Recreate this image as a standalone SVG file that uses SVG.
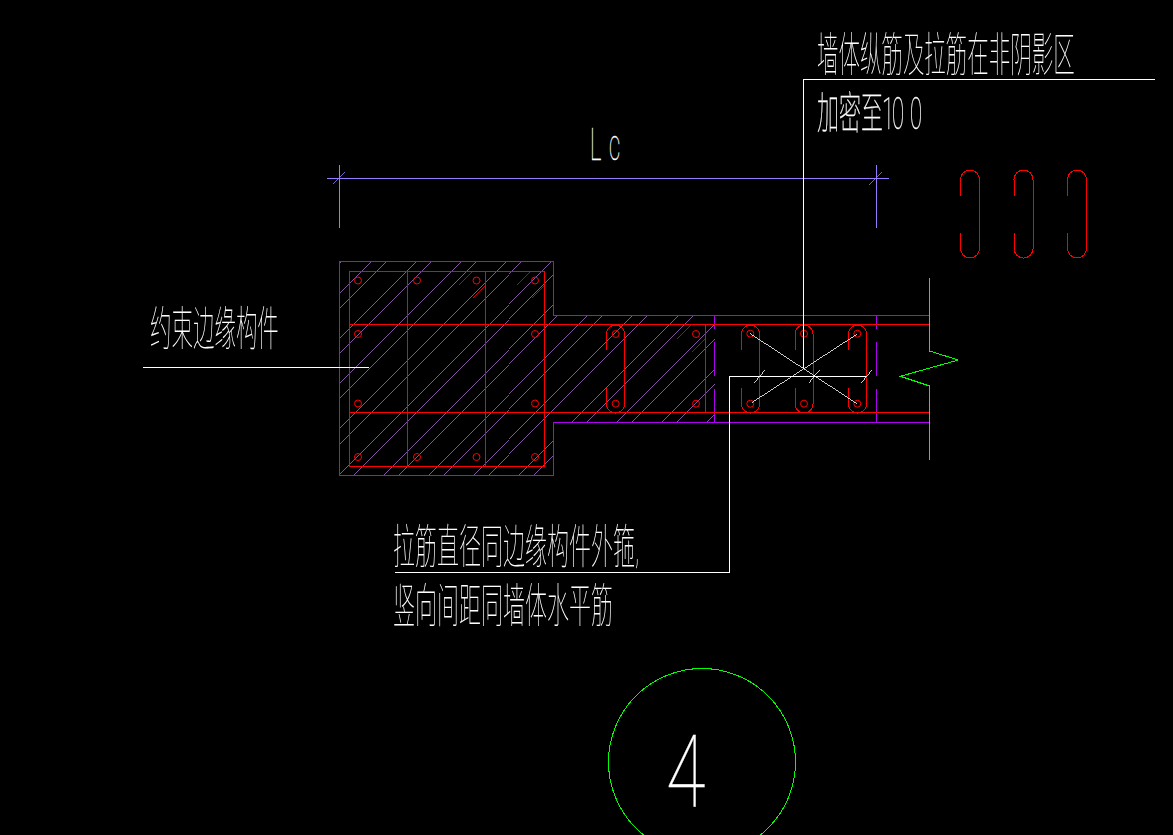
<svg xmlns="http://www.w3.org/2000/svg" width="1173" height="835" viewBox="0 0 1173 835">
<style>
path,polyline,circle{fill:none;stroke-width:1;shape-rendering:crispEdges}
.r{stroke:#ff0000}.p{stroke:#b000f0}.h{stroke:#9a64bc;stroke-width:.85}.w{stroke:#ffffff}.g{stroke:#00ff00}.b{stroke:#9a78ff}
.d{stroke-width:.8}
text{fill:#ffffff;font-family:Roboto,"Noto Sans CJK SC",sans-serif;font-weight:100;font-size:47px}
.t{stroke:#ffffff;stroke-width:.3}
</style>
<defs>
<clipPath id="cs"><path d="M339.5 261.5H553.5V315.5H715V422.5H553.5V475H339.5Z"/></clipPath>
<circle id="bar" class="r" r="3.5" style="shape-rendering:auto"/>
<path id="st" class="r" d="M0 25V9A9 9 0 0 1 18 9V79A9 9 0 0 1 0 79V63"/>
<path id="lp" class="r" d="M0 26V10A9.5 9.5 0 0 1 19 10V79A9.5 9.5 0 0 1 0 79V63"/>
</defs>
<rect width="1173" height="835" fill="#000000"/>
<g id="hatch">
<path class="h" clip-path="url(#cs)" d="M402.5 200L102.5 500M432.5 200L132.5 500M447.5 200L147.5 500M477.5 200L177.5 500M492.5 200L192.5 500M522.5 200L222.5 500M537.5 200L237.5 500M567.5 200L267.5 500M582.5 200L282.5 500M612.5 200L312.5 500M627.5 200L327.5 500M657.5 200L357.5 500M672.5 200L372.5 500M702.5 200L402.5 500M717.5 200L417.5 500M747.5 200L447.5 500M762.5 200L462.5 500M792.5 200L492.5 500M807.5 200L507.5 500M837.5 200L537.5 500M852.5 200L552.5 500M882.5 200L582.5 500M897.5 200L597.5 500M927.5 200L627.5 500"/>
</g>
<g id="outline">
<path class="p" d="M929.5 315.5H553.5V261.5H339.5V475H553.5V422.5H929.5"/>
<path class="p" d="M714.5 315.5V329M714.5 342V376M714.5 389V422.5M876.5 315.5V329M876.5 342V376M876.5 389V422.5"/>
</g>
<g id="rebar">
<path class="r" d="M349.5 271H544.5V466H349.5ZM407.5 271V466M485.5 271V466M349.5 324.5H929.5M349.5 412.5H929.5M705.5 324.5V412.5"/>
<path class="r d" d="M458.5 285L471.5 272M472.5 298L485.5 284.5M517 284.5L530 272M531 298L544.5 284.5M677 339L691 325M691.5 352L705.5 338"/>
<use href="#bar" x="358" y="280.5"/><use href="#bar" x="417" y="280.5"/><use href="#bar" x="476.5" y="280.5"/><use href="#bar" x="535" y="280.5"/>
<use href="#bar" x="358" y="334"/><use href="#bar" x="535" y="334"/><use href="#bar" x="358" y="403.5"/><use href="#bar" x="535" y="403.5"/>
<use href="#bar" x="358" y="457"/><use href="#bar" x="417" y="457"/><use href="#bar" x="476.5" y="457"/><use href="#bar" x="535" y="457"/>
<use href="#bar" x="615.7" y="334"/><use href="#bar" x="696" y="334"/><use href="#bar" x="615.7" y="403.7"/><use href="#bar" x="696" y="403.7"/>
<use href="#bar" x="750.3" y="333.7"/><use href="#bar" x="804" y="333.7"/><use href="#bar" x="857.3" y="333.7"/>
<use href="#bar" x="750.3" y="403.7"/><use href="#bar" x="804" y="403.7"/><use href="#bar" x="857.3" y="403.7"/>
<use href="#st" x="606.5" y="325"/><use href="#st" x="741.5" y="325"/><use href="#st" x="795" y="325"/><use href="#st" x="848.5" y="325"/>
<use href="#lp" x="960.5" y="169.5"/><use href="#lp" x="1014" y="169.5"/><use href="#lp" x="1067.5" y="169.5"/>
</g>
<g id="wall-break">
<polyline class="g" points="929.5,278 929.5,351 958.3,360 900.3,376.3 929.5,386 929.5,460"/>
</g>
<g id="dimension">
<path class="b" d="M327 178.5H889M339 165V228M876.5 165V228"/>
<path class="b d" d="M333 184L345 172M869.5 184.5L882 172"/>
<text class="t" opacity=".999" transform="translate(590,160) scale(.5,1)" style="font-size:44px" x="0 38">Lc</text>
</g>
<g id="ties">
<path class="w d" d="M750 333.5L856.7 403.5M751.7 402.7L857.3 334M754.5 382.5L765 370M808.5 382.5L819 369.5M861.5 382.5L872 370"/>
</g>
<g id="leaders">
<path class="w" d="M803.5 368V79.5H1155"/>
<path class="w" d="M866 376.5H729.5V572.5H395"/>
<path class="w" d="M143 367.5H369"/>
</g>
<g id="labels" opacity=".999">
<text transform="translate(817,71) scale(.457,1)">墙体纵筋及拉筋在非阴影区</text>
<text class="t" transform="translate(817,129) scale(.5,1)" style="font-size:44px" x="0 44 88 130 150 186">加密至100</text>
<text transform="translate(150,345) scale(.457,1)">约束边缘构件</text>
<text transform="translate(393,563) scale(.468,1)">拉筋直径同边缘构件外箍,</text>
<text transform="translate(393,622) scale(.468,1)">竖向间距同墙体水平筋</text>
</g>
<g id="section-mark">
<circle class="g" cx="702" cy="762" r="93.5"/>
<text class="t" opacity=".999" transform="translate(666,806) scale(.72,1)" style="font-size:100px">4</text>
</g>
</svg>
